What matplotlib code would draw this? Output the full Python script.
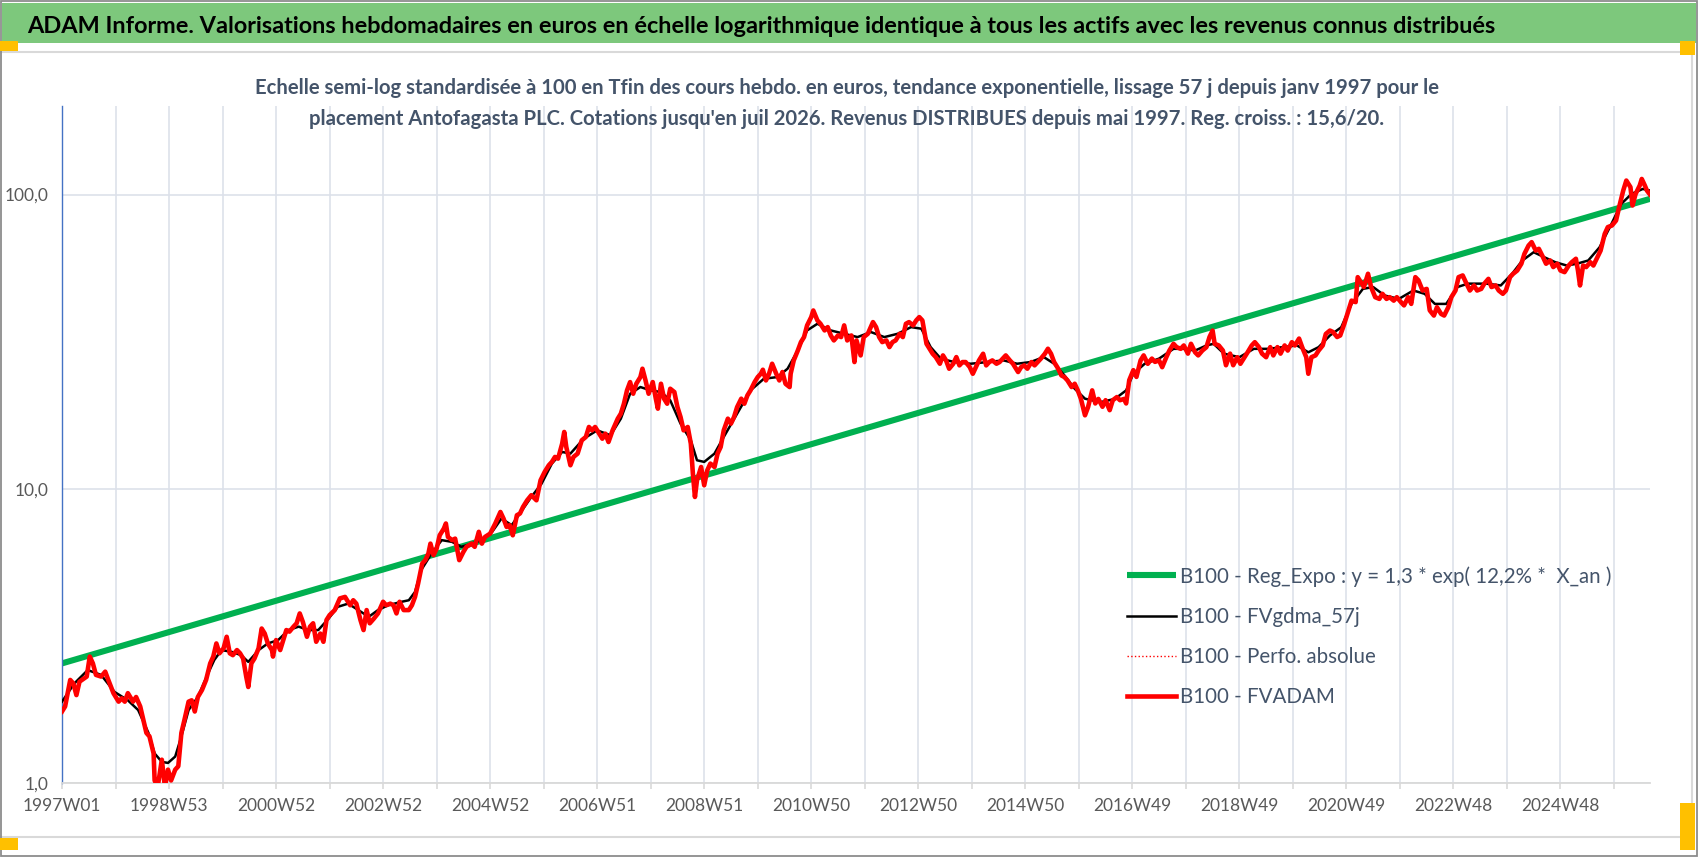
import matplotlib
matplotlib.use("Agg")
import matplotlib.pyplot as plt
from matplotlib.patches import Rectangle
from matplotlib.lines import Line2D

plt.rcParams['font.family'] = ['Lato', 'DejaVu Sans']

# ---------------- data ----------------
title = ("ADAM Informe. Valorisations hebdomadaires en euros en échelle logarithmique "
         "identique à tous les actifs avec les revenus connus distribués")
subtitle1 = ("Echelle semi-log standardisée à 100 en Tfin des cours hebdo. en euros, tendance "
             "exponentielle, lissage 57 j depuis janv 1997 pour le")
subtitle2 = ("placement Antofagasta PLC. Cotations jusqu'en juil 2026. Revenus DISTRIBUES depuis "
             "mai 1997. Reg. croiss. : 15,6/20.")

tick_labels = ['1997W01', '1998W53', '2000W52', '2002W52', '2004W52', '2006W51', '2008W51',
               '2010W50', '2012W50', '2014W50', '2016W49', '2018W49', '2020W49', '2022W48',
               '2024W48']
y_ticks = [1, 10, 100]
y_tick_labels = ['1,0', '10,0', '100,0']
n_weeks = 1543

labels = ['B100 - Reg_Expo : y = 1,3 * exp( 12,2% *  X_an )', 'B100 - FVgdma_57j',
          'B100 - Perfo. absolue', 'B100 - FVADAM']

trend_weeks = [0, 1543]
trend_values = [2.55, 96.7]

red_weeks = [0, 3, 8, 11, 14, 17, 24, 27, 30, 33, 38, 42, 45, 50, 55, 58, 61, 64, 69, 72, 76, 79,
             82, 85, 89, 90, 93, 97, 100, 103, 106, 110, 113, 116, 119, 123, 126, 129, 132, 136,
             140, 144, 147, 150, 153, 157, 160, 163, 166, 170, 173, 176, 179, 181, 184, 187, 191,
             194, 197, 200, 204, 205, 208, 212, 215, 218, 221, 225, 228, 231, 234, 238, 241, 244,
             247, 251, 254, 257, 260, 265, 270, 275, 280, 283, 286, 290, 293, 296, 299, 303, 307,
             312, 315, 319, 322, 325, 328, 332, 337, 340, 343, 346, 350, 353, 356, 358, 361, 364,
             367, 371, 373, 375, 379, 382, 386, 390, 393, 398, 401, 405, 408, 411, 416, 421, 426,
             429, 432, 435, 438, 442, 445, 448, 452, 456, 461, 465, 469, 473, 476, 479, 482, 486,
             488, 490, 494, 497, 501, 505, 509, 512, 515, 518, 522, 525, 528, 531, 535, 540, 543,
             546, 549, 552, 555, 558, 562, 564, 567, 570, 574, 577, 579, 582, 585, 588, 591, 595,
             598, 601, 604, 608, 611, 613, 615, 617, 621, 624, 627, 630, 634, 637, 640, 643, 647,
             650, 653, 656, 660, 663, 666, 669, 673, 676, 679, 681, 684, 687, 690, 694, 697, 700,
             703, 707, 708, 711, 715, 718, 721, 724, 728, 730, 734, 737, 741, 744, 747, 750, 754,
             757, 760, 763, 767, 770, 772, 776, 779, 783, 788, 791, 794, 797, 801, 804, 807, 810,
             814, 817, 820, 823, 827, 830, 833, 836, 840, 843, 846, 849, 853, 856, 859, 862, 866,
             869, 872, 875, 878, 882, 885, 888, 891, 895, 898, 901, 904, 908, 911, 914, 917, 921,
             924, 929, 932, 935, 938, 942, 945, 948, 951, 955, 958, 961, 964, 968, 971, 974, 977,
             981, 984, 987, 990, 994, 997, 1001, 1004, 1007, 1011, 1014, 1018, 1021, 1025, 1028,
             1032, 1034, 1037, 1041, 1044, 1048, 1051, 1055, 1059, 1062, 1066, 1069, 1073, 1076,
             1080, 1083, 1087, 1090, 1094, 1097, 1101, 1104, 1108, 1112, 1115, 1118, 1120, 1124,
             1128, 1131, 1135, 1138, 1142, 1145, 1149, 1152, 1156, 1159, 1163, 1166, 1170, 1174,
             1177, 1181, 1184, 1188, 1191, 1195, 1198, 1202, 1205, 1209, 1211, 1214, 1218, 1221,
             1225, 1228, 1232, 1235, 1239, 1242, 1246, 1250, 1253, 1257, 1259, 1262, 1265, 1269,
             1272, 1276, 1280, 1283, 1287, 1290, 1294, 1297, 1301, 1304, 1308, 1311, 1315, 1318,
             1322, 1326, 1329, 1333, 1336, 1340, 1343, 1347, 1350, 1354, 1357, 1361, 1364, 1368,
             1372, 1375, 1379, 1382, 1386, 1389, 1393, 1396, 1400, 1403, 1407, 1410, 1414, 1418,
             1421, 1425, 1428, 1432, 1435, 1439, 1442, 1446, 1449, 1453, 1456, 1460, 1464, 1467,
             1471, 1473, 1475, 1478, 1481, 1485, 1488, 1492, 1495, 1499, 1502, 1506, 1510, 1513,
             1517, 1520, 1524, 1526, 1529, 1533, 1535, 1538, 1540, 1543]
red_values = [1.75, 1.82, 2.24, 2.18, 1.99, 2.21, 2.30, 2.69, 2.55, 2.33, 2.30, 2.39, 2.24, 2.02,
              1.89, 1.94, 1.89, 2.02, 1.89, 1.96, 1.82, 1.64, 1.48, 1.44, 1.26, 1.02, 0.97, 1.20,
              0.97, 1.11, 1.02, 1.11, 1.14, 1.48, 1.64, 1.89, 1.91, 1.75, 1.96, 2.07, 2.24, 2.55,
              2.69, 2.98, 2.76, 2.87, 3.14, 2.76, 2.72, 2.83, 2.76, 2.65, 2.30, 2.12, 2.55, 2.65,
              2.87, 3.35, 3.22, 2.98, 2.83, 2.69, 3.06, 2.83, 3.06, 3.31, 3.27, 3.40, 3.49, 3.77,
              3.53, 3.14, 3.40, 3.49, 3.02, 3.22, 3.02, 3.58, 3.72, 3.87, 4.24, 4.29, 4.02, 4.18,
              4.07, 3.58, 3.31, 3.87, 3.49, 3.62, 3.77, 4.13, 4.02, 4.07, 4.02, 3.77, 4.13, 3.87,
              3.87, 4.02, 4.29, 4.76, 5.57, 5.72, 6.02, 6.51, 5.95, 6.26, 6.95, 7.32, 7.62, 6.86,
              6.69, 6.77, 5.72, 6.10, 6.35, 6.51, 6.35, 7.14, 6.51, 6.86, 7.04, 7.62, 8.34, 7.92,
              7.42, 7.52, 6.95, 8.13, 8.24, 8.68, 9.14, 9.51, 9.14, 10.69, 11.41, 12.02, 12.34,
              12.83, 12.66, 14.24, 15.60, 13.87, 12.02, 12.83, 13.17, 14.61, 15.00, 16.22, 15.80,
              16.22, 15.39, 14.80, 15.39, 14.42, 15.80, 17.31, 18.00, 19.46, 21.60, 23.05, 21.04,
              22.75, 23.97, 25.59, 23.35, 21.04, 23.05, 20.24, 18.72, 22.75, 20.24, 19.46, 21.88,
              21.32, 18.96, 17.54, 15.80, 16.22, 14.24, 11.26, 9.38, 10.69, 11.86, 10.28, 11.56,
              12.18, 11.86, 13.17, 13.87, 15.80, 17.31, 16.65, 17.54, 18.96, 20.24, 19.46, 20.77,
              21.60, 23.05, 23.97, 24.60, 25.39, 23.35, 24.60, 26.61, 24.60, 23.35, 24.94, 22.75,
              22.17, 24.60, 27.31, 29.54, 31.52, 32.78, 35.92, 38.33, 40.37, 37.34, 36.38, 34.53,
              35.44, 33.20, 31.93, 33.20, 32.78, 35.92, 31.93, 33.20, 26.96, 31.93, 28.40, 32.78,
              33.64, 36.86, 35.44, 32.78, 31.52, 31.93, 30.31, 31.52, 31.93, 33.64, 32.78, 36.38,
              36.86, 35.92, 37.34, 38.33, 37.34, 31.11, 29.92, 28.77, 28.03, 26.61, 28.40, 27.31,
              25.59, 26.61, 28.03, 26.27, 26.96, 26.96, 25.93, 24.60, 25.93, 27.31, 28.77, 26.27,
              26.96, 27.31, 26.61, 26.96, 27.67, 28.40, 27.31, 26.61, 24.94, 25.93, 26.27, 25.59,
              26.96, 26.27, 26.96, 27.67, 28.77, 29.92, 28.77, 26.96, 25.59, 24.29, 23.97, 23.35,
              22.17, 22.75, 21.60, 20.24, 17.77, 18.96, 21.60, 19.5, 20.2, 19.0, 20.0, 18.5, 20.0,
              20.5, 20.0, 20.2, 19.5, 23.4, 25.3, 24.0, 27.3, 28.4, 26.6, 27.7, 27.0, 27.3, 25.9,
              28.0, 29.5, 31.1, 30.3, 29.9, 30.7, 28.8, 31.1, 29.1, 28.4, 29.5, 30.3, 32.8, 34.5,
              31.1, 30.7, 29.5, 26.3, 28.8, 26.3, 28.0, 26.6, 28.0, 29.1, 30.7, 31.5, 30.3, 28.8,
              28.0, 30.3, 28.4, 30.3, 28.8, 30.7, 29.5, 31.5, 30.7, 32.4, 30.3, 28.0, 24.6, 28.0,
              28.4, 29.5, 30.7, 33.6, 34.5, 34.1, 32.8, 33.2, 36.4, 40.4, 43.6, 43.1, 52.4, 50.4,
              48.5, 53.8, 48.5, 44.8, 44.2, 46.0, 44.2, 44.8, 43.6, 44.8, 43.1, 42.0, 44.8, 42.5,
              52.4, 51.1, 47.2, 47.8, 40.4, 38.8, 41.4, 39.3, 38.8, 41.4, 44.8, 47.2, 52.4, 53.1,
              50.4, 47.2, 49.1, 47.2, 47.8, 49.8, 51.7, 48.5, 49.1, 47.2, 46.0, 47.2, 52.4, 53.8,
              55.2, 58.2, 62.9, 67.1, 68.9, 64.5, 65.4, 61.3, 58.2, 59.7, 56.7, 58.2, 55.2, 54.5,
              57.4, 58.9, 60.5, 55.2, 49.1, 57.4, 56.7, 58.9, 57.4, 61.3, 64.5, 73.5, 77.5, 78.5,
              81.6, 90.6, 103.2, 111.6, 106.0, 91.8, 100.5, 107.3, 113.0, 107.3, 103.2, 100.0]

black_weeks = [0, 12, 25, 38, 51, 64, 74, 84, 90, 97, 103, 110, 116, 123, 132, 142, 148, 155, 165,
               174, 181, 191, 200, 210, 220, 230, 239, 249, 259, 268, 278, 288, 298, 307, 317, 330,
               337, 343, 349, 359, 369, 379, 388, 398, 408, 418, 427, 437, 447, 456, 466, 476, 486,
               494, 507, 520, 533, 543, 552, 562, 572, 582, 591, 601, 611, 617, 624, 634, 643, 656,
               669, 682, 695, 705, 715, 724, 734, 747, 760, 773, 786, 799, 812, 825, 835, 844, 854,
               867, 883, 899, 915, 928, 941, 954, 964, 974, 984, 994, 1009, 1023, 1034, 1041, 1052,
               1066, 1080, 1090, 1101, 1112, 1119, 1129, 1144, 1158, 1172, 1186, 1200, 1211, 1221,
               1232, 1243, 1253, 1264, 1274, 1285, 1299, 1313, 1324, 1334, 1345, 1356, 1366, 1384,
               1398, 1409, 1419, 1430, 1440, 1451, 1462, 1472, 1483, 1494, 1504, 1515, 1525, 1536,
               1543]
black_values = [1.89, 2.18, 2.42, 2.33, 2.04, 1.91, 1.77, 1.48, 1.26, 1.18, 1.17, 1.23, 1.44, 1.77,
                1.96, 2.36, 2.62, 2.83, 2.79, 2.72, 2.58, 2.83, 2.98, 3.06, 3.31, 3.40, 3.31, 3.31,
                3.62, 3.97, 4.07, 3.87, 3.67, 3.87, 4.02, 4.13, 4.18, 4.46, 5.29, 6.02, 6.69, 6.60,
                6.35, 6.51, 6.69, 7.14, 7.92, 7.52, 8.45, 9.38, 10.41, 12.18, 13.34, 13.17, 14.80,
                15.80, 15.20, 17.31, 21.04, 22.17, 21.60, 21.32, 19.98, 16.65, 14.61, 12.50, 12.34,
                13.17, 15.00, 18.00, 21.60, 23.66, 23.97, 25.59, 29.54, 34.53, 36.38, 34.53, 33.64,
                32.78, 34.10, 32.78, 33.64, 35.44, 35.00, 30.31, 27.67, 26.96, 26.61, 26.96, 27.31,
                26.61, 26.96, 28.03, 26.61, 24.29, 21.88, 20.24, 19.70, 20.20, 21.60, 24.60, 26.60,
                27.70, 29.90, 29.90, 29.50, 30.70, 31.10, 28.80, 28.00, 29.90, 29.90, 30.30, 30.70,
                29.10, 30.30, 33.20, 35.40, 42.50, 47.80, 48.50, 45.40, 44.20, 47.20, 46.00, 42.50,
                42.50, 48.50, 49.80, 49.80, 49.10, 53.80, 59.70, 63.70, 61.30, 58.90, 57.40, 58.20,
                59.70, 66.20, 77.50, 92.90, 100.50, 104.50, 103.20]

# ---------------- figure ----------------
W, H = 1698, 857
fig = plt.figure(figsize=(W / 100, H / 100), dpi=100)
fig.patch.set_facecolor('white')


def fx(px):
    return px / W


def fy(py):
    return 1 - py / H


# green title band
fig.add_artist(Rectangle((fx(2), fy(43)), fx(1694), 40 / H, transform=fig.transFigure,
                         facecolor='#7DC87C', edgecolor='none', zorder=0))
# inner frame lines
for (x0, y0, x1, y1) in [(0, 52, 1692, 52), (1692, 52, 1692, 837), (0, 837, 1692, 837)]:
    fig.add_artist(Line2D([fx(x0), fx(x1)], [fy(y0), fy(y1)], transform=fig.transFigure,
                          color='#D9D9D9', lw=1.5, zorder=0))
# outer border
fig.add_artist(Rectangle((fx(0.7), fy(855.5)), fx(1696.6), 854.8 / H, transform=fig.transFigure,
                         facecolor='none', edgecolor='#8C8C8C', lw=1.3, zorder=5))
# yellow handles
for (x0, y0, x1, y1) in [(0, 41, 18, 51), (1680, 41, 1695, 55), (1680, 803, 1695, 850),
                         (0, 838, 18, 850)]:
    fig.add_artist(Rectangle((fx(x0), fy(y1)), fx(x1 - x0), (y1 - y0) / H,
                             transform=fig.transFigure, facecolor='#FFC000', edgecolor='none',
                             zorder=6))

renderer = fig.canvas.get_renderer()


def fit(t, target):
    w = t.get_window_extent(renderer).width
    t.set_fontsize(t.get_fontsize() * target / w)


t = fig.text(fx(27), fy(33), title, fontsize=17, fontweight='bold', color='black',
             ha='left', va='baseline')
fit(t, 1470)
s1 = fig.text(fx(847), fy(94), subtitle1, fontsize=14, fontweight='bold', color='#44546A',
              ha='center', va='baseline')
fit(s1, 1192)
s2 = fig.text(fx(847), fy(125), subtitle2, fontsize=s1.get_fontsize(), fontweight='bold',
              color='#44546A', ha='center', va='baseline')

# ---------------- axes ----------------
ax = fig.add_axes([fx(62), fy(783), fx(1650 - 62), (783 - 106) / H])
ax.set_facecolor('none')

ax.plot(trend_weeks, trend_values, color='#00B050', lw=4.4, solid_capstyle='butt',
        label=labels[0], zorder=2)
ax.plot(black_weeks, black_values, color='black', lw=1.8, label=labels[1], zorder=3)
ax.plot(red_weeks, red_values, color='red', lw=1.0, ls=':', label=labels[2], zorder=3.5)
ax.plot(red_weeks, red_values, color='red', lw=3.3, label=labels[3], zorder=4,
        solid_joinstyle='round')

ax.set_yscale('log')
ax.set_ylim(1, 200)
ax.set_xlim(0, n_weeks)
ax.set_yticks(y_ticks)
ax.set_yticklabels(y_tick_labels)
ax.yaxis.set_minor_locator(matplotlib.ticker.NullLocator())

grid_pos = list(range(0, n_weeks, 52))
ax.set_xticks(grid_pos)
xl = []
for i, g in enumerate(grid_pos):
    xl.append(tick_labels[i // 2] if i % 2 == 0 and i // 2 < len(tick_labels) else '')
ax.set_xticklabels(xl)

ax.grid(True, which='major', color='#DDE1EA', lw=1.2, zorder=0)
ax.set_axisbelow(True)
for side in ['top', 'right']:
    ax.spines[side].set_visible(False)
ax.spines['left'].set_color('#4472C4')
ax.spines['left'].set_linewidth(1.0)
ax.spines['bottom'].set_color('#D9D9D9')
ax.spines['bottom'].set_linewidth(1.3)

ax.tick_params(axis='x', which='major', length=4, width=1.2, color='#D9D9D9', pad=7,
               labelsize=12.5, labelcolor='#595959')
ax.tick_params(axis='y', which='major', length=0, pad=10, labelsize=12.5, labelcolor='#595959')

leg = ax.legend(loc='upper left', bbox_to_anchor=(fx(1127), fy(566)),
                bbox_transform=fig.transFigure, frameon=False, fontsize=14.8,
                handlelength=2.4, handletextpad=0.2, labelspacing=0.98, borderpad=0,
                borderaxespad=0)
for txt in leg.get_texts():
    txt.set_color('#44546A')

fig.savefig('out.png', dpi=100)
